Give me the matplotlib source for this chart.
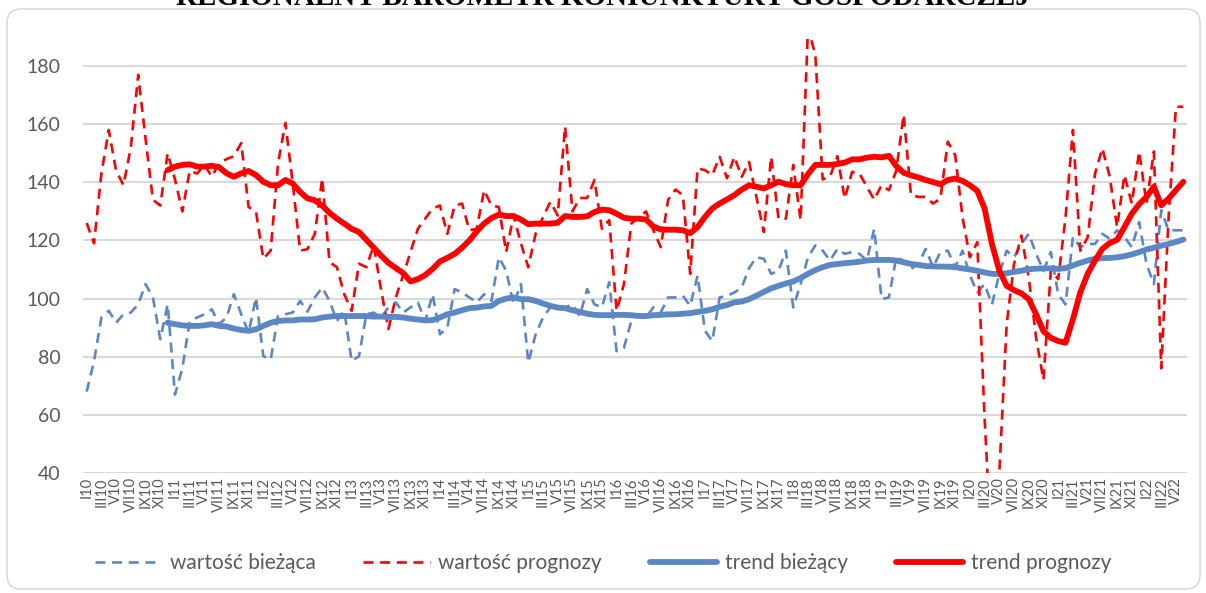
import matplotlib
matplotlib.use("Agg")
import matplotlib.pyplot as plt
import matplotlib.patches as mpatches
from matplotlib.transforms import IdentityTransform
import numpy as np

plt.rcParams['font.family'] = ['Lato', 'DejaVu Sans']

# monthly data I10 .. VI22
roman = ['I', 'II', 'III', 'IV', 'V', 'VI', 'VII', 'VIII', 'IX', 'X', 'XI', 'XII']
months = [f"{r}{y:02d}" for y in range(10, 23) for r in roman][:150]

wartosc_biezaca = [
    68, 78.5, 93.5, 95.8, 91.7, 94.6, 95.2, 98, 105, 100.4,
    86, 98, 67, 76, 92.3, 93.5, 94.6, 96.3, 91.2, 93.5,
    101.5, 94.6, 88.3, 100.4, 80.2, 79, 94, 94.6, 95.2, 99.2,
    95.5, 100.4, 103.8, 99.2, 92.3, 95.8, 78.5, 80.2, 94.6, 95.2,
    93.5, 97, 98.7, 95.2, 97, 98.7, 92.3, 101.5, 87.7, 90,
    103.3, 102.1, 100.4, 98.7, 101.5, 99.2, 114.2, 109.6, 98, 105,
    78, 87.7, 93.5, 97, 97.5, 97, 98, 94, 103.3, 98,
    97, 105.6, 81.9, 83.1, 92.3, 94.6, 93.5, 97, 95.2, 100.4,
    100.4, 101, 97.5, 107.9, 88.9, 85.4, 100.4, 101, 102.1, 103.8,
    110.5, 114.2, 113.7, 108.5, 109.6, 116.5, 97, 105, 114.2, 118.3,
    116.5, 113.1, 117.1, 115.4, 116, 115.4, 113.1, 124, 99.8, 100.4,
    114.2, 113.1, 110.2, 111.9, 117.1, 110.8, 116, 116.5, 110.8, 116.5,
    108, 102.1, 105, 98, 108.5, 116.5, 114.2, 118.8, 122.3, 115.4,
    109.6, 116, 101.5, 98, 121.2, 117.7, 118.8, 118.8, 122.3, 120.6,
    123.5, 121.2, 117.7, 126.3, 111.9, 105, 130.4, 123.5, 123.5, 123.5,
]

wartosc_prognozy = [
    126, 119, 143, 158, 144, 139, 152, 177, 155, 134,
    132, 150, 141, 130, 144, 143, 146, 142, 146.5, 148,
    149, 153.5, 131.5, 130, 113.7, 116.5, 146.5, 160.4, 139.6, 116.5,
    117, 122.3, 141.4, 112.5, 110.8, 101.5, 95.8, 112, 110.8, 118.3,
    103, 89.5, 100.4, 108, 116, 124, 127.5, 131, 132, 122.3,
    132, 132.7, 123.5, 124, 137.3, 132, 131.5, 116, 128.6, 119,
    110.8, 122.3, 128, 133.3, 128.6, 159.2, 130, 134.6, 134.6, 140.8,
    124, 127, 95.8, 105, 125.8, 128, 130, 123.5, 117.7, 134,
    137.5, 135.6, 108.5, 144.8, 144.2, 142.5, 148.8, 141.4, 148.8, 141.9,
    147, 135, 122.9, 148.8, 127.5, 127.5, 146, 127, 193, 184,
    141, 142, 149, 134.4, 143.6, 143, 138.5, 134, 139, 137.3,
    144, 163.3, 135.6, 135, 135, 132.7, 134.4, 154, 149.4, 128,
    114.2, 119.4, 58.8, 10, 40, 91.2, 111.9, 121.7, 107.3, 86.5,
    72, 109.6, 106.7, 128, 158, 116.5, 121, 143, 151.7, 142,
    124.6, 142.5, 132.7, 150.6, 132.7, 150.6, 76, 128, 166, 166,
]

# trends start at XII10
trend_start = 11
trend_biezacy = [
    91.7, 91.2, 90.8, 90.6, 90.6, 90.8, 91.2, 90.6, 90.4, 89.7,
    89.2, 88.9, 89.4, 90.6, 91.7, 92.3, 92.5, 92.5, 92.8, 92.8,
    92.9, 93.5, 93.8, 94, 94, 94, 94, 94, 93.8, 93.8,
    93.7, 93.7, 93.5, 93.1, 92.8, 92.5, 92.6, 93.5, 94.6, 95.2,
    96, 96.7, 96.9, 97.3, 97.5, 99.2, 100, 100.4, 99.8, 99.8,
    99.2, 98.3, 97.5, 96.9, 96.7, 96, 95.4, 94.8, 94.4, 94.3,
    94.3, 94.4, 94.4, 94.3, 94, 94, 94.3, 94.4, 94.6, 94.6,
    94.8, 95, 95.4, 95.8, 96.3, 97.2, 97.8, 98.7, 99, 99.8,
    101, 102.3, 103.5, 104.4, 105.2, 105.9, 107.1, 108.5, 109.8, 110.8,
    111.6, 111.9, 112.2, 112.4, 112.7, 113.1, 113.3, 113.3, 113.3, 113.1,
    112.5, 111.9, 111.6, 111.2, 111.1, 111, 111, 110.8, 110.4, 110,
    109.6, 109, 108.5, 108.5, 108.7, 109.2, 109.6, 110.1, 110.3, 110.4,
    110.4, 110.2, 110.5, 111.4, 112.3, 113.1, 113.7, 113.9, 114, 114.2,
    114.6, 115.2, 116, 116.9, 117.5, 118.2, 118.8, 119.5, 120.3,
]
trend_prognozy = [
    144.2, 145.4, 146, 146.2, 145.4, 145.4, 145.7, 145.2, 143.1, 141.9,
    143.1, 143.9, 142.5, 140.2, 139, 139, 140.8, 139.6, 136.7, 134.5,
    133.8, 132, 129.5, 127.5, 125.8, 124, 122.9, 120.2, 117.5, 114.8,
    112.3, 110.5, 108.8, 105.9, 106.7, 108.1, 110.2, 112.8, 114, 115.4,
    117.5, 120, 123.1, 125.8, 127.7, 128.9, 128.4, 128.4, 127.2, 125.6,
    125.8, 125.8, 125.8, 126.1, 128.4, 128.1, 128.1, 128.3, 129.8, 130.6,
    130.4, 129.2, 127.8, 127.5, 127.5, 127.2, 124.8, 123.8, 123.7, 123.7,
    123.5, 122.5, 124.6, 128.1, 131, 132.7, 134.1, 135.6, 137.5, 139,
    138.5, 137.9, 139, 140.2, 139.4, 139, 139, 142.8, 146, 146,
    146, 146.3, 146.8, 147.9, 147.9, 148.5, 148.8, 148.6, 149.1, 145.6,
    143.3, 142.4, 141.7, 140.8, 140.1, 139.3, 140.8, 141.3, 140.5, 139,
    137.1, 131, 118.8, 109.6, 104.4, 102.9, 101.8, 99.8, 94.6, 88.8,
    86.5, 85.4, 84.8, 92.9, 102.1, 108.5, 113.1, 117.1, 119.1, 120.2,
    124.6, 129.2, 132.5, 135, 138.5, 132.1, 134.4, 137.3, 140.2,
]

blue = '#5B87C5'
red = '#FF0000'
grey_txt = '#595959'

fig = plt.figure(figsize=(12.06, 5.93), dpi=100)
ax = fig.add_axes([83 / 1206, 120 / 593, 1104 / 1206, 436 / 593])

x = np.arange(len(months))
xt = np.arange(trend_start, trend_start + len(trend_biezacy))

ax.plot(x, wartosc_biezaca, color=blue, lw=1.9, dashes=(3.8, 2.5), label='wartość bieżąca', zorder=3)
ax.plot(x, wartosc_prognozy, color=red, lw=1.9, dashes=(3.8, 2.5), label='wartość prognozy', zorder=3)
ax.plot(xt, trend_biezacy, color=blue, lw=4.2, solid_capstyle='round', label='trend bieżący', zorder=4)
ax.plot(xt, trend_prognozy, color=red, lw=4.2, solid_capstyle='round', label='trend prognozy', zorder=5)

ax.set_xlim(-0.5, len(months) - 0.5)
ax.set_ylim(40, 190)
ax.set_yticks(range(40, 181, 20))
ax.set_xticks(x[::2])
ax.set_xticklabels(months[::2], rotation=90, fontsize=10.5, color=grey_txt)
ax.tick_params(axis='y', labelsize=14, labelcolor=grey_txt, length=0, pad=16)
ax.tick_params(axis='x', length=0, pad=3)
ax.grid(axis='y', color='#D9D9D9', lw=1.5)
ax.set_axisbelow(True)
for s in ax.spines.values():
    s.set_visible(False)

leg = fig.legend(loc='center', bbox_to_anchor=(0.5, 30 / 593), ncol=4, frameon=False,
                 fontsize=15, handlelength=3.2, handletextpad=0.4, columnspacing=2.3)
for t in leg.get_texts():
    t.set_color(grey_txt)

# cut-off title at the very top
fig.text(0.5, 588 / 593, 'REGIONALNY BAROMETR KONIUNKTURY GOSPODARCZEJ', ha='center', va='baseline',
         fontsize=21, fontweight='bold', family='Liberation Serif', color='black')

border = mpatches.FancyBboxPatch((7, 4), 1193, 580, boxstyle='round,pad=0,rounding_size=14',
                                 transform=IdentityTransform(), fill=False, ec='#D9D9D9', lw=1.2)
fig.add_artist(border)

fig.savefig('out.png', dpi=100)
